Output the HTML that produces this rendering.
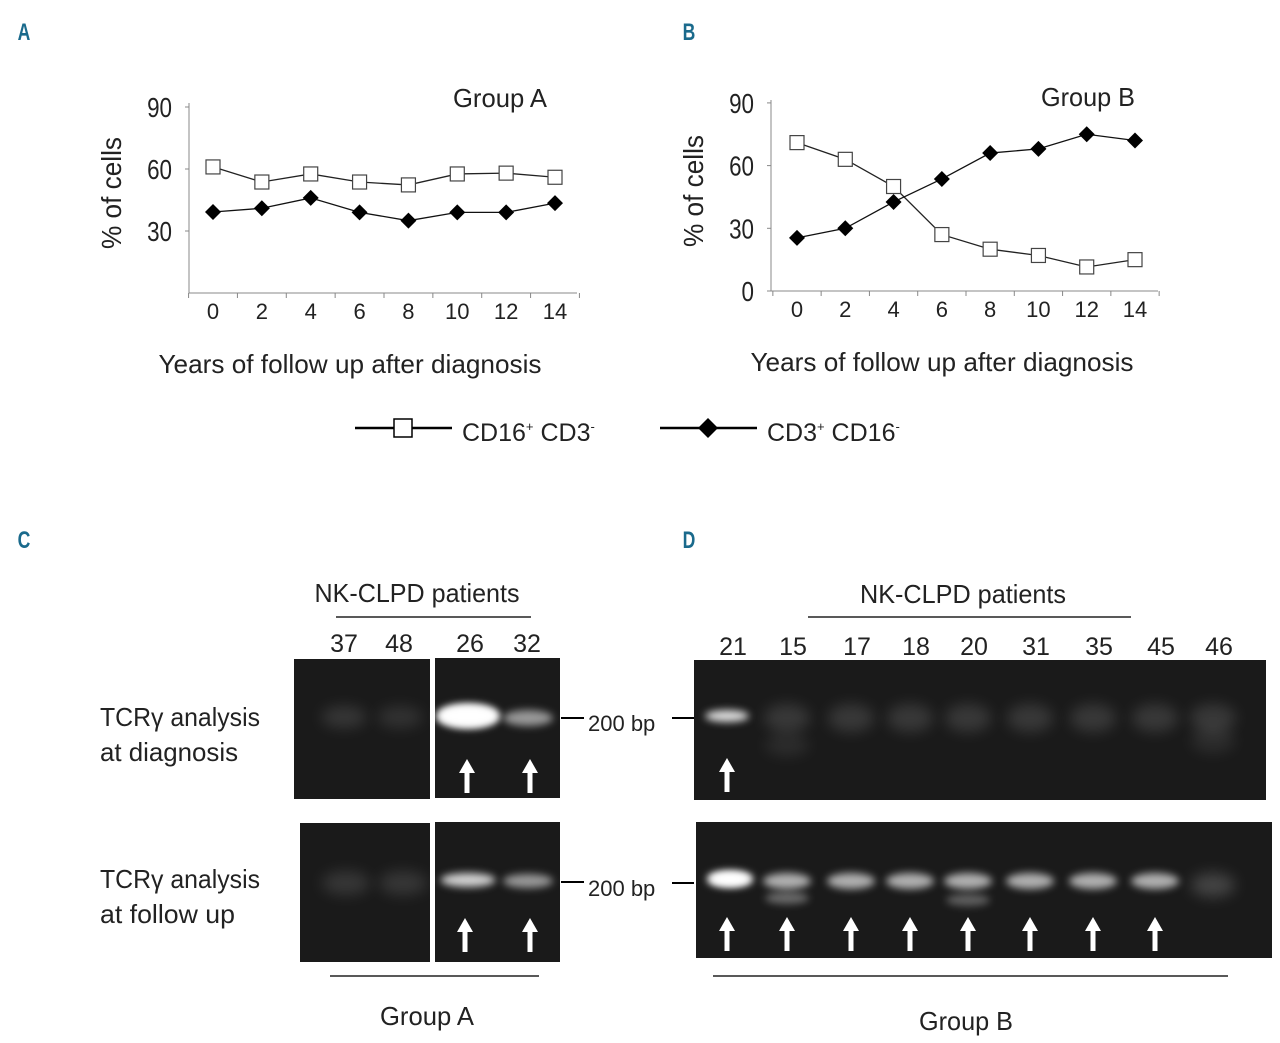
<!DOCTYPE html>
<html><head><meta charset="utf-8">
<style>
html,body{margin:0;padding:0;background:#fff;}
svg{display:block;font-family:"Liberation Sans",sans-serif;}
</style></head>
<body>
<svg id="fig" width="1280" height="1043" viewBox="0 0 1280 1043" xmlns="http://www.w3.org/2000/svg">
<defs>
<filter id="b4" x="-50%" y="-100%" width="200%" height="300%"><feGaussianBlur stdDeviation="4"/></filter>
<filter id="b6" x="-50%" y="-100%" width="200%" height="300%"><feGaussianBlur stdDeviation="7"/></filter>
</defs>
<g id="charts"></g>
<g id="gels"></g>
</svg>
<script>
const years=[0,2,4,6,8,10,12,14];
const yTicksA=[30,60,90];
const yTicksB=[0,30,60,90];
const groupA_CD16=[61,53.7,57.6,53.7,52.3,57.6,58,56];
const groupA_CD3=[39.2,41,46,39,35,39,39,43.5];
const groupB_CD16=[71,63,50,27,20,17,11.5,15];
const groupB_CD3=[25.4,30,42.6,53.6,66,68,75,72];

const NS="http://www.w3.org/2000/svg";
function mk(tag,attrs,parent,text){const e=document.createElementNS(NS,tag);for(const k in attrs)e.setAttribute(k,attrs[k]);if(text!==undefined)e.textContent=text;parent.appendChild(e);return e;}
const charts=document.getElementById('charts');

function drawChart(cfg){
  const g=mk('g',{},charts);
  
  
  const xs=v=>cfg.x0+(v-years[0])/(years[years.length-1]-years[0])*(cfg.x1-cfg.x0);
  const ys=v=>cfg.y0-v/30*cfg.u30;
  const ya=mk('line',{x1:cfg.ax,y1:cfg.yTop,x2:cfg.ax,y2:cfg.y0,stroke:'#888','stroke-width':1},g);
  
  const xa=mk('line',{x1:cfg.ax,y1:cfg.y0,x2:cfg.axEnd,y2:cfg.y0,stroke:'#888','stroke-width':1},g);
  
  cfg.yt.forEach(t=>{
    mk('line',{x1:cfg.ax-4,y1:ys(t),x2:cfg.ax,y2:ys(t),stroke:'#888'},g);
    const tx=mk('text',{x:cfg.ax-17,y:ys(t)+10,'text-anchor':'end','font-size':28,fill:'#222',transform:`translate(${cfg.ax-17},0) scale(0.8,1) translate(${-(cfg.ax-17)},0)`},g,String(t));
    
  });
  const step=(cfg.x1-cfg.x0)/(years.length-1);
  for(let i=0;i<=years.length;i++){const xx=cfg.x0-step/2+i*step;mk('line',{x1:xx,y1:cfg.y0,x2:xx,y2:cfg.y0+5,stroke:'#888'},g);}
  years.forEach(v=>{
    const tx=mk('text',{x:xs(v),y:cfg.y0+26,'text-anchor':'middle','font-size':22,fill:'#222'},g,String(v));
    
  });
  const yl=mk('text',{x:0,y:0,'text-anchor':'middle','font-size':28,fill:'#222',textLength:112,lengthAdjust:'spacingAndGlyphs',transform:`translate(${cfg.ax-68},${cfg.y0-100}) rotate(-90)`},g,'% of cells');
  
  const xl=mk('text',{x:cfg.xlx,y:cfg.y0+80,'text-anchor':'middle','font-size':26,fill:'#222',textLength:383,lengthAdjust:'spacingAndGlyphs'},g,'Years of follow up after diagnosis');
  
  const tt=mk('text',{x:cfg.titleX,y:cfg.titleY,'text-anchor':'middle','font-size':26,fill:'#222',textLength:94,lengthAdjust:'spacingAndGlyphs'},g,cfg.title);
  
  const l1=mk('polyline',{points:cfg.open.map((v,i)=>xs(years[i])+','+ys(v)).join(' '),fill:'none',stroke:'#222','stroke-width':1.3},g);
  
  const l2=mk('polyline',{points:cfg.fill.map((v,i)=>xs(years[i])+','+ys(v)).join(' '),fill:'none',stroke:'#111','stroke-width':1.3},g);
  
  cfg.open.forEach((v,i)=>{
    const r=mk('rect',{x:xs(years[i])-7,y:ys(v)-7,width:14,height:14,fill:'#fff',stroke:'#444','stroke-width':1.2},g);
    
  });
  cfg.fill.forEach((v,i)=>{
    const x=xs(years[i]),y=ys(v);
    const p=mk('polygon',{points:`${x},${y-8} ${x+8},${y} ${x},${y+8} ${x-8},${y}`,fill:'#000'},g);
    
  });
}
drawChart({name:'chart-group-a',ax:189,axEnd:577,x0:213,x1:555,y0:293,u30:62,yTop:103,yt:yTicksA,open:groupA_CD16,fill:groupA_CD3,title:'Group A',titleX:500,titleY:107,xlx:350});
drawChart({name:'chart-group-b',ax:771,axEnd:1158,x0:797,x1:1135,y0:291,u30:62.7,yTop:100,yt:yTicksB,open:groupB_CD16,fill:groupB_CD3,title:'Group B',titleX:1088,titleY:106,xlx:942});

[['A',24,40],['B',689,40],['C',24,548],['D',689,548]].forEach(([t,x,y])=>{
  const e=mk('text',{x:0,y:0,'text-anchor':'middle','font-size':22,'font-weight':'bold',fill:'#1a6a8c',transform:`translate(${x},${y}) scale(0.8,1.1)`},charts,t);
  
});
const lg=mk('g',{},charts);

mk('line',{x1:355,y1:428,x2:452,y2:428,stroke:'#000','stroke-width':2.5},lg);
mk('rect',{x:394,y:419,width:18,height:18,fill:'#fff',stroke:'#000','stroke-width':1.5},lg);
const le1=mk('text',{x:462,y:441,'font-size':25,fill:'#222'},lg);
le1.innerHTML='CD16<tspan font-size="13" dy="-10">+</tspan><tspan dy="10"> CD3</tspan><tspan font-size="13" dy="-10">-</tspan>';

mk('line',{x1:660,y1:428,x2:757,y2:428,stroke:'#000','stroke-width':2.5},lg);
mk('polygon',{points:'708,418 718,428 708,438 698,428',fill:'#000'},lg);
const le2=mk('text',{x:767,y:441,'font-size':25,fill:'#222'},lg);
le2.innerHTML='CD3<tspan font-size="13" dy="-10">+</tspan><tspan dy="10"> CD16</tspan><tspan font-size="13" dy="-10">-</tspan>';


const gels=document.getElementById('gels');
function label(t,x,y,size,name,anchor,len){const a={x:x,y:y,'text-anchor':anchor||'middle','font-size':size,fill:'#222'};if(len){a.textLength=len;a.lengthAdjust='spacingAndGlyphs';}const e=mk('text',a,gels,t);return e;}
function gel(x,y,w,h,name){const r=mk('rect',{x:x,y:y,width:w,height:h,fill:'#1a1a1a'},gels);}
function band(cx,cy,w,h,op,blur,name){const e=mk('ellipse',{cx:cx,cy:cy,rx:w/2,ry:h/2,fill:'#fff',opacity:op,filter:blur?'url(#b6)':'url(#b4)'},gels);}
function arrow(cx,top){const p=mk('polygon',{points:`${cx},${top} ${cx+8},${top+14} ${cx+2.5},${top+14} ${cx+2.5},${top+34} ${cx-2.5},${top+34} ${cx-2.5},${top+14} ${cx-8},${top+14}`,fill:'#fff'},gels);}
// C
label('NK-CLPD patients',417,602,26,'group-header','middle',205);
mk('line',{x1:336,y1:617,x2:531,y2:617,stroke:'#222','stroke-width':1.5},gels);
[['37',344],['48',399],['26',470],['32',527]].forEach(([t,x])=>label(t,x,652,25,'lane-label'));
gel(294,659,136,140,'gel-c-diagnosis-left');gel(435,658,125,140,'gel-c-diagnosis-right');
gel(300,823,130,139,'gel-c-followup-left');gel(435,822,125,140,'gel-c-followup-right');
band(344,717,45,22,0.12,true,'band');band(400,717,45,22,0.1,true,'band');
band(468,716,62,24,1,false,'band');band(468,716,60,20,0.9,false,'band');band(528,718,50,16,0.55,false,'band');
band(346,883,48,24,0.12,true,'band');band(403,883,48,24,0.12,true,'band');
band(468,880,55,14,0.8,false,'band');band(528,881,50,14,0.55,false,'band');
arrow(467,759);arrow(530,759);arrow(465,918);arrow(530,918);
label('TCRγ analysis',100,726,26,'row-label-diagnosis','start',160);label('at diagnosis',100,761,26,'row-label-diagnosis','start',138);
label('TCRγ analysis',100,888,26,'row-label-followup','start',160);label('at follow up',100,923,26,'row-label-followup','start',135);
mk('line',{x1:561,y1:718,x2:584,y2:718,stroke:'#000','stroke-width':2},gels);label('200 bp',588,731,22,'marker-label','start');
mk('line',{x1:561,y1:882,x2:584,y2:882,stroke:'#000','stroke-width':2},gels);label('200 bp',588,896,22,'marker-label','start');
mk('line',{x1:330,y1:976,x2:539,y2:976,stroke:'#222','stroke-width':1.5},gels);
label('Group A',427,1025,26,'group-a-label','middle',94);
// D
label('NK-CLPD patients',963,603,26,'group-header','middle',206);
mk('line',{x1:808,y1:617,x2:1131,y2:617,stroke:'#222','stroke-width':1.5},gels);
const lanesD=[['21',727],['15',787],['17',851],['18',910],['20',968],['31',1030],['35',1093],['45',1155],['46',1213]];
lanesD.forEach(([t,x])=>label(t,x+6,655,25,'lane-label'));
gel(694,660,572,140,'gel-d-diagnosis');gel(696,822,576,136,'gel-d-followup');
mk('line',{x1:672,y1:718,x2:694,y2:718,stroke:'#000','stroke-width':2},gels);
mk('line',{x1:672,y1:883,x2:694,y2:883,stroke:'#000','stroke-width':2},gels);
band(727,716,44,12,0.85,false,'band');
lanesD.slice(1).forEach(([t,x])=>{band(x,718,46,28,0.13,true,'band');});
band(787,745,44,22,0.08,true,'band');band(1213,740,44,26,0.08,true,'band');
band(730,879,46,16,1,false,'band');band(730,879,40,12,1,false,'band');
lanesD.slice(1,8).forEach(([t,x])=>{band(x,881,48,16,0.65,false,'band');});
band(787,898,44,12,0.35,false,'band');band(968,900,44,12,0.3,false,'band');band(1213,885,44,24,0.18,true,'band');
arrow(727,758);
lanesD.slice(0,8).forEach(([t,x])=>arrow(x,917));
mk('line',{x1:713,y1:976,x2:1228,y2:976,stroke:'#222','stroke-width':1.5},gels);
label('Group B',966,1030,26,'group-b-label','middle',94);
</script>
</body></html>
